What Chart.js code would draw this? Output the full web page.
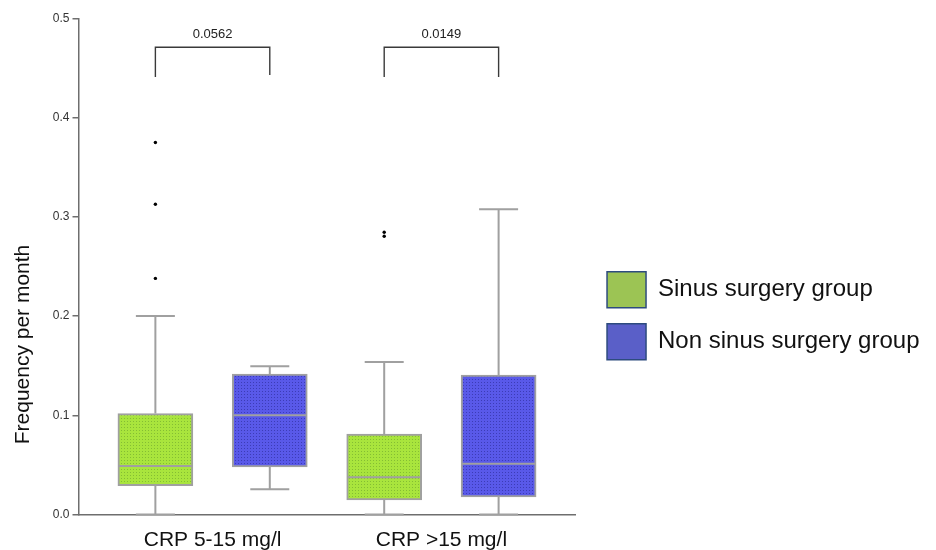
<!DOCTYPE html>
<html>
<head>
<meta charset="utf-8">
<script src="https://cdn.jsdelivr.net/npm/chart.js@4/dist/chart.umd.min.js"></script>
<style>
  html, body { margin: 0; padding: 0; background: #ffffff; }
  #wrap { width: 936px; height: 550px; position: relative; }
</style>
</head>
<body>
<div id="wrap"><canvas id="c" width="936" height="550"></canvas></div>
<script>
// ---------------- data ----------------
const categories = ['CRP 5-15 mg/l', 'CRP >15 mg/l'];
const seriesNames = ['Sinus surgery group', 'Non sinus surgery group'];
const yTitle = 'Frequency per month';

// Sinus surgery group: five-number summary per category
const sinusMin = [0.0, 0.0];
const sinusQ1 = [0.029, 0.0146];
const sinusMedian = [0.049, 0.0375];
const sinusQ3 = [0.1018, 0.0811];
const sinusMax = [0.200, 0.1537];
const sinusOutliers = [[0.375, 0.3127, 0.238], [0.2845, 0.2805]];

// Non sinus surgery group
const nonSinusMin = [0.0254, 0.0];
const nonSinusQ1 = [0.0479, 0.0176];
const nonSinusMedian = [0.100, 0.0512];
const nonSinusQ3 = [0.1416, 0.1406];
const nonSinusMax = [0.1494, 0.3077];
const nonSinusOutliers = [[], []];

// significance brackets
const pValues = ['0.0562', '0.0149'];
const bracketTop = [0.471, 0.471];
const bracketLeftFoot = [0.441, 0.441];
const bracketRightFoot = [0.443, 0.441];

// axis
const yMin = 0, yMax = 0.5, yStep = 0.1;

// ---------------- style ----------------
const FONT = "'Liberation Sans', Arial, Helvetica, sans-serif";
const SERIES_OFFSET = [-0.25, 0.25];   // position of each series inside a category
const BOX_PX = 75;
const CAP_HALF_PX = 19.5;
const WHISKER_COLOR = '#a0a0a0';
const AXIS_COLOR = '#6e6e6e';

Chart.defaults.font.family = FONT;

const cvs = document.getElementById('c');
const mainCtx = cvs.getContext('2d');
function makePattern(base, dot) {
  const t = document.createElement('canvas');
  t.width = 3; t.height = 3;
  const g = t.getContext('2d');
  g.fillStyle = base; g.fillRect(0, 0, 3, 3);
  g.fillStyle = dot; g.fillRect(1, 1, 1, 1);
  return mainCtx.createPattern(t, 'repeat');
}
const greenPattern = makePattern('#a9e53d', '#84bd33');
const bluePattern = makePattern('#5959e9', '#3c3cb6');
const legendFill = ['#9cc454', '#5a5fc8'];

const xPos = (cat, s) => cat + 1 + SERIES_OFFSET[s];

const datasets = [
  {
    type: 'bar', label: seriesNames[0],
    data: categories.map((_, i) => ({ x: xPos(i, 0), y: [sinusQ1[i], sinusQ3[i]] })),
    backgroundColor: greenPattern, borderColor: WHISKER_COLOR, borderWidth: 2,
    borderSkipped: false, barThickness: BOX_PX, grouped: false
  },
  {
    type: 'bar', label: seriesNames[1],
    data: categories.map((_, i) => ({ x: xPos(i, 1), y: [nonSinusQ1[i], nonSinusQ3[i]] })),
    backgroundColor: bluePattern, borderColor: WHISKER_COLOR, borderWidth: 2,
    borderSkipped: false, barThickness: BOX_PX, grouped: false
  },
  {
    type: 'scatter', label: 'Sinus outliers',
    data: sinusOutliers.flatMap((arr, i) => arr.map(v => ({ x: xPos(i, 0), y: v }))),
    pointRadius: 1.7, pointBackgroundColor: '#000', pointBorderWidth: 0, pointHoverRadius: 1.7
  },
  {
    type: 'scatter', label: 'Non sinus outliers',
    data: nonSinusOutliers.flatMap((arr, i) => arr.map(v => ({ x: xPos(i, 1), y: v }))),
    pointRadius: 1.7, pointBackgroundColor: '#000', pointBorderWidth: 0, pointHoverRadius: 1.7
  }
].concat(categories.map((_, i) => ({
  type: 'line', label: 'p ' + pValues[i],
  data: [
    { x: xPos(i, 0), y: bracketLeftFoot[i] },
    { x: xPos(i, 0), y: bracketTop[i] },
    { x: xPos(i, 1), y: bracketTop[i] },
    { x: xPos(i, 1), y: bracketRightFoot[i] }
  ],
  borderColor: '#3a3a3a', borderWidth: 1.4, pointRadius: 0, fill: false, tension: 0
})));

const boxPlugin = {
  id: 'boxWhiskers',
  afterDatasetsDraw(chart) {
    const { ctx } = chart;
    const y = chart.scales.y, x = chart.scales.x;
    const groups = [
      { meta: chart.getDatasetMeta(0), min: sinusMin, med: sinusMedian, q1: sinusQ1, q3: sinusQ3, max: sinusMax },
      { meta: chart.getDatasetMeta(1), min: nonSinusMin, med: nonSinusMedian, q1: nonSinusQ1, q3: nonSinusQ3, max: nonSinusMax }
    ];
    const py = v => y.getPixelForValue(v);
    ctx.save();
    ctx.strokeStyle = WHISKER_COLOR;
    ctx.lineWidth = 2;
    groups.forEach(g => g.meta.data.forEach((bar, i) => {
      const cx = bar.x, hw = bar.width / 2;
      ctx.beginPath();
      ctx.moveTo(cx - hw + 1, py(g.med[i])); ctx.lineTo(cx + hw - 1, py(g.med[i]));
      ctx.moveTo(cx, py(g.q3[i])); ctx.lineTo(cx, py(g.max[i]));
      ctx.moveTo(cx - CAP_HALF_PX, py(g.max[i])); ctx.lineTo(cx + CAP_HALF_PX, py(g.max[i]));
      ctx.moveTo(cx, py(g.q1[i])); ctx.lineTo(cx, py(g.min[i]));
      ctx.moveTo(cx - CAP_HALF_PX, py(g.min[i])); ctx.lineTo(cx + CAP_HALF_PX, py(g.min[i]));
      ctx.stroke();
    }));
    ctx.fillStyle = '#222';
    ctx.font = '13px ' + FONT;
    ctx.textAlign = 'center';
    ctx.textBaseline = 'middle';
    pValues.forEach((p, i) => {
      const cx = (x.getPixelForValue(xPos(i, 0)) + x.getPixelForValue(xPos(i, 1))) / 2;
      ctx.fillText(p, cx, py(bracketTop[i]) - 13);
    });
    ctx.restore();
  },
  afterDraw(chart) {
    const { ctx, chartArea } = chart;
    ctx.save();
    ctx.translate(29, chartArea.bottom - 170);
    ctx.rotate(-Math.PI / 2);
    ctx.font = '21px ' + FONT;
    ctx.fillStyle = '#111';
    ctx.textAlign = 'center';
    ctx.textBaseline = 'alphabetic';
    ctx.fillText(yTitle, 0, 0);
    ctx.restore();
  }
};

new Chart(cvs, {
  type: 'bar',
  data: { datasets },
  plugins: [boxPlugin],
  options: {
    responsive: false,
    devicePixelRatio: 1,
    animation: false,
    events: [],
    layout: { padding: { left: 0, top: 18.5, right: 6.5, bottom: 0 } },
    plugins: {
      tooltip: { enabled: false },
      legend: {
        display: true,
        position: 'right',
        align: 'center',
        maxWidth: 420,
        onClick: null,
        title: { display: true, text: '', font: { size: 10 }, padding: { top: 25, bottom: 26 } },
        labels: {
          boxWidth: 39,
          boxHeight: 36,
          padding: 16,
          color: '#111',
          font: { size: 24, family: FONT },
          generateLabels: () => seriesNames.map((n, i) => ({
            text: n, fillStyle: legendFill[i], strokeStyle: '#2d4b7e', lineWidth: 1.5,
            hidden: false, datasetIndex: i, fontColor: '#111'
          }))
        }
      }
    },
    scales: {
      x: {
        type: 'linear',
        offset: false,
        min: 0.414,
        max: 2.584,
        afterFit: s => { s.height = 35.5; },
        afterBuildTicks: s => { s.ticks = categories.map((_, i) => ({ value: i + 1 })); },
        grid: { display: false, drawTicks: false },
        border: { display: true, color: AXIS_COLOR, width: 1.5 },
        ticks: {
          padding: 13.5,
          color: '#111',
          font: { size: 21, family: FONT },
          autoSkip: false,
          maxRotation: 0,
          callback: v => categories[Math.round(v) - 1]
        }
      },
      y: {
        type: 'linear',
        position: 'left',
        min: yMin,
        max: yMax,
        afterFit: s => { s.width = 78.5; },
        grid: { display: true, drawOnChartArea: false, drawTicks: true, tickLength: 6, color: AXIS_COLOR, lineWidth: 1.5 },
        border: { display: true, color: AXIS_COLOR, width: 1.5 },
        ticks: {
          stepSize: yStep,
          padding: 3,
          color: '#333',
          font: { size: 12, family: FONT },
          callback: v => Number(v).toFixed(1)
        }
      },
      spacer: {
        type: 'linear',
        position: 'right',
        display: true,
        afterFit: s => { s.width = 16; },
        grid: { display: false, drawTicks: false },
        border: { display: false },
        ticks: { display: false }
      }
    }
  }
});
</script>
</body>
</html>
